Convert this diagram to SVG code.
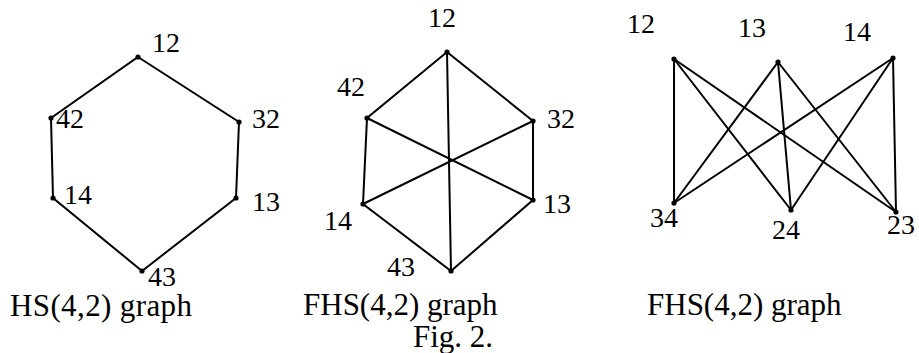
<svg xmlns="http://www.w3.org/2000/svg" width="919" height="353" viewBox="0 0 919 353">
<style>
.e{stroke:#000;stroke-width:2;fill:none;stroke-linecap:round}
.d{fill:#000}
text{font-family:"Liberation Serif","DejaVu Serif",serif;fill:#000}
.l{font-size:28px}
.c{font-size:31px}
</style>
<rect width="919" height="353" fill="#fff"/>
<g id="connectors">
<g id="hs-edges">
<path class="e" d="M138,57L239,122L236,198L142,271L53,198L51,118Z"/>
</g>
<g id="fhs1-edges">
<path class="e" d="M447,52L533,121L533,200L451,271L363,204L367,118Z"/>
<line class="e" x1="447" y1="52" x2="451" y2="271"/>
<line class="e" x1="367" y1="118" x2="533" y2="200"/>
<line class="e" x1="533" y1="121" x2="363" y2="204"/>
</g>
<g id="fhs2-edges">
<line class="e" x1="674" y1="59" x2="674" y2="203"/>
<line class="e" x1="674" y1="59" x2="791" y2="210"/>
<line class="e" x1="674" y1="59" x2="896" y2="212"/>
<line class="e" x1="778" y1="62" x2="674" y2="203"/>
<line class="e" x1="778" y1="62" x2="791" y2="210"/>
<line class="e" x1="778" y1="62" x2="896" y2="212"/>
<line class="e" x1="893" y1="58" x2="674" y2="203"/>
<line class="e" x1="893" y1="58" x2="791" y2="210"/>
<line class="e" x1="893" y1="58" x2="896" y2="212"/>
</g>
</g>
<g id="hs-12"><circle class="d" cx="138" cy="57" r="2.6"/><text class="l" x="152" y="52">12</text></g>
<g id="hs-42"><circle class="d" cx="51" cy="118" r="2.6"/><text class="l" x="56" y="128">42</text></g>
<g id="hs-32"><circle class="d" cx="239" cy="122" r="2.6"/><text class="l" x="252" y="128">32</text></g>
<g id="hs-14"><circle class="d" cx="53" cy="198" r="2.6"/><text class="l" x="64" y="204">14</text></g>
<g id="hs-13"><circle class="d" cx="236" cy="198" r="2.6"/><text class="l" x="252" y="211">13</text></g>
<g id="hs-43"><circle class="d" cx="142" cy="271" r="2.6"/><text class="l" x="148" y="286">43</text></g>
<g id="hs-caption"><text class="c" x="10" y="316" textLength="182">HS(4,2) graph</text></g>

<g id="fhs1-12"><circle class="d" cx="447" cy="52" r="2.6"/><text class="l" x="428" y="27">12</text></g>
<g id="fhs1-42"><circle class="d" cx="367" cy="118" r="2.6"/><text class="l" x="337" y="96">42</text></g>
<g id="fhs1-32"><circle class="d" cx="533" cy="121" r="2.6"/><text class="l" x="547" y="128">32</text></g>
<g id="fhs1-14"><circle class="d" cx="363" cy="204" r="2.6"/><text class="l" x="324" y="230">14</text></g>
<g id="fhs1-13"><circle class="d" cx="533" cy="200" r="2.6"/><text class="l" x="543" y="213">13</text></g>
<g id="fhs1-43"><circle class="d" cx="451" cy="271" r="2.6"/><text class="l" x="387" y="276">43</text></g>
<g id="fhs1-caption"><text class="c" x="303" y="315">FHS(4,2) graph</text></g>
<g id="fig-caption"><text class="c" x="413" y="347">Fig. 2.</text></g>

<g id="fhs2-12"><circle class="d" cx="674" cy="59" r="2.6"/><text class="l" x="627" y="33">12</text></g>
<g id="fhs2-13"><circle class="d" cx="778" cy="62" r="2.6"/><text class="l" x="738" y="37">13</text></g>
<g id="fhs2-14"><circle class="d" cx="893" cy="58" r="2.6"/><text class="l" x="843" y="41">14</text></g>
<g id="fhs2-34"><circle class="d" cx="674" cy="203" r="2.6"/><text class="l" x="650" y="227">34</text></g>
<g id="fhs2-24"><circle class="d" cx="791" cy="210" r="2.6"/><text class="l" x="772" y="239">24</text></g>
<g id="fhs2-23"><circle class="d" cx="896" cy="212" r="2.6"/><text class="l" x="887" y="234">23</text></g>
<g id="fhs2-caption"><text class="c" x="647" y="315">FHS(4,2) graph</text></g>
</svg>
